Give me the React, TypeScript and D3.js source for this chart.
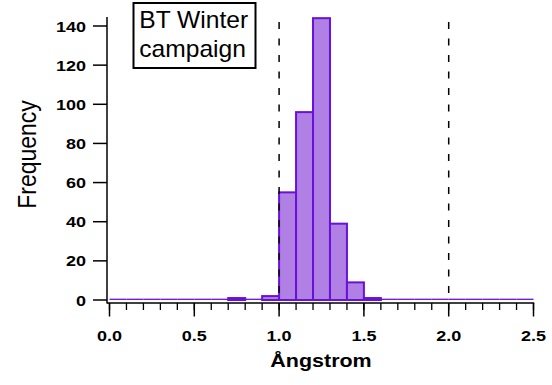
import React from "react";
import * as d3 from "d3";

const binStarts = [0, 0.1, 0.2, 0.3, 0.4, 0.5, 0.6, 0.7, 0.8, 0.9, 1.0, 1.1, 1.2, 1.3, 1.4, 1.5, 1.6, 1.7, 1.8, 1.9, 2.0, 2.1, 2.2, 2.3, 2.4];
const counts = [0, 0, 0, 0, 0, 0, 0, 1, 0, 2, 55, 96, 144, 39, 9, 1, 0, 0, 0, 0, 0, 0, 0, 0, 0];
const binWidth = 0.1;
const yTicks = [0, 20, 40, 60, 80, 100, 120, 140];
const xMajorTicks = [0, 0.5, 1.0, 1.5, 2.0, 2.5];
const xMinorTicks = d3.range(0, 26).map((i) => i / 10);
const markerLines = [1.0, 2.0];
const legendLines = ["BT Winter", "campaign"];

const FONT = "'Liberation Sans', Arial, sans-serif";

export default function App() {
  const W = 552;
  const H = 385;
  const x = d3.scaleLinear().domain([0, 2.5]).range([109.5, 533.5]);
  const y = d3.scaleLinear().domain([0, 144.6]).range([300, 17]);
  const axisX = 107;
  const axisY = 303;
  const fill = "#b080e4";
  const stroke = "#6a10d8";

  return (
    <svg width={W} height={H} style={{ position: "absolute", left: 0, top: 0, background: "#fff" }}>
      {/* bars */}
      {binStarts.map((b, i) => {
        const x0 = x(b);
        const x1 = x(b + binWidth);
        const yTop = y(counts[i]);
        const h = y(0) - yTop;
        return h > 0 ? (
          <rect key={i} x={x0} y={yTop} width={x1 - x0} height={h} fill={fill} stroke={stroke} strokeWidth={2} />
        ) : (
          <line key={i} x1={x0} x2={x1} y1={y(0) - 0.7} y2={y(0) - 0.7} stroke={stroke} strokeWidth={1.3} />
        );
      })}
      {/* dashed marker lines */}
      {markerLines.map((m) => (
        <line key={m} x1={x(m)} x2={x(m)} y1={22} y2={302} stroke="#000" strokeWidth={1.5} strokeDasharray="7,9.5" />
      ))}
      {/* y axis */}
      <line x1={axisX} x2={axisX} y1={17} y2={axisY + 0.5} stroke="#000" strokeWidth={1.5} />
      {yTicks.map((t) => (
        <g key={t}>
          <line x1={93} x2={axisX} y1={y(t)} y2={y(t)} stroke="#000" strokeWidth={1.5} />
          <text
            transform={`translate(86,${y(t) + 5.5}) scale(1.2,1)`}
            textAnchor="end"
            fontFamily={FONT}
            fontWeight="bold"
            fontSize={15}
            fill="#000"
          >
            {t}
          </text>
        </g>
      ))}
      {/* x axis */}
      <line x1={axisX} x2={534.2} y1={axisY} y2={axisY} stroke="#000" strokeWidth={1.5} />
      {xMinorTicks.map((t) => (
        <line key={t} x1={x(t)} x2={x(t)} y1={axisY} y2={310} stroke="#000" strokeWidth={1.3} />
      ))}
      {xMajorTicks.map((t) => (
        <g key={t}>
          <line x1={x(t)} x2={x(t)} y1={axisY} y2={316.5} stroke="#000" strokeWidth={1.5} />
          <text
            transform={`translate(${x(t)},340.7) scale(1.2,1)`}
            textAnchor="middle"
            fontFamily={FONT}
            fontWeight="bold"
            fontSize={15}
            fill="#000"
          >
            {t.toFixed(1)}
          </text>
        </g>
      ))}
      {/* axis titles */}
      <text
        transform={`translate(321,366.7) scale(1.13,1)`}
        textAnchor="middle"
        fontFamily={FONT}
        fontWeight="bold"
        fontSize={19}
        fill="#000"
      >
        Ångstrom
      </text>
      <text
        transform={`translate(36,154.5) scale(1.1,1) rotate(-90)`}
        textAnchor="middle"
        fontFamily={FONT}
        fontSize={23}
        fill="#000"
      >
        Frequency
      </text>
      {/* legend box */}
      <rect x={133.5} y={3} width={122} height={65} fill="#fff" stroke="#000" strokeWidth={2} />
      {legendLines.map((l, i) => (
        <text
          key={l}
          transform={`translate(139.3,${28 + i * 28.7}) scale(1.07,1)`}
          fontFamily={FONT}
          fontSize={23}
          fill="#000"
        >
          {l}
        </text>
      ))}
    </svg>
  );
}
